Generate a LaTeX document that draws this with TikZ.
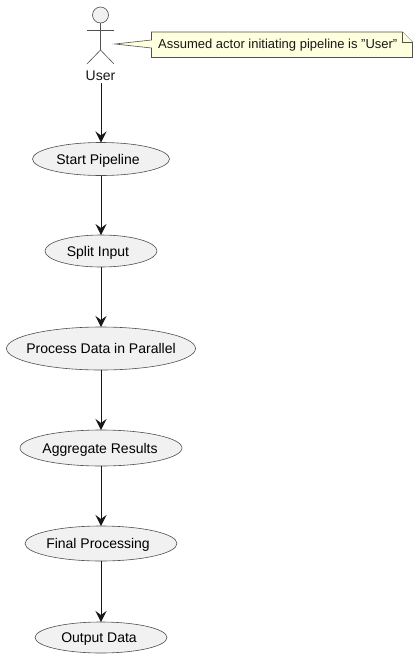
\documentclass[tikz,border=0pt]{standalone}
\usepackage{fontspec}
\setmainfont{Liberation Sans}
\usetikzlibrary{arrows.meta,shapes.geometric}
\definecolor{ucfill}{HTML}{F1F1F1}
\definecolor{ucline}{HTML}{181818}
\definecolor{softline}{HTML}{505050}
\definecolor{notefill}{HTML}{FEFFDD}
\newcommand{\uctext}[2]{\makebox[0pt]{\kern#1pt\raisebox{-5pt}[0pt][0pt]{\fontsize{14}{16}\selectfont #2}\kern-#1pt}}
\tikzset{
  usecase/.style={ellipse,draw=softline,fill=ucfill,line width=0.6pt,inner sep=0pt,outer sep=0pt},
  flow/.style={draw=ucline,line width=1pt,-{Stealth[length=11pt,width=11pt,inset=4pt]}},
  actorline/.style={draw=softline,line width=0.6pt},
  notebox/.style={draw=softline,fill=notefill,line width=0.6pt,line join=miter},
  plain/.style={inner sep=0pt,text=ucline}
}
\begin{document}
\begin{tikzpicture}[x=1pt,y=-1pt]
\useasboundingbox[fill=white] (0,0) rectangle (418,657);
% actor
\node[circle,draw=softline,fill=ucfill,line width=0.6pt,minimum size=16pt,inner sep=0pt] (head) at (100.5,15) {};
\coordinate (neck) at (100.5,23);
\coordinate (hip) at (100.5,50);
\coordinate (armL) at (87,30);
\coordinate (armR) at (114,30);
\coordinate (legL) at (87,64);
\coordinate (legR) at (114,64);
\draw[actorline] (neck) -- (hip);
\draw[actorline] (armL) -- (armR);
\draw[actorline] (legL) -- (hip) -- (legR);
\node[plain,font=\fontsize{14}{16}\selectfont] (user) at (100.5,76) {User};
% note
\coordinate (tip) at (115,44);
\draw[notebox] (151.5,32) -- (402.5,32) -- (412.5,42) -- (412.5,57.5) -- (151.5,57.5) -- (151.5,48) -- (tip) -- (151.5,40) -- cycle;
\draw[notebox] (402.5,32) -- (402.5,42) -- (412.5,42);
\node[plain,anchor=west,font=\fontsize{13}{15}\selectfont] (note) at (158,45.5) {Assumed actor initiating pipeline is "User"};
% use cases
\node[usecase,minimum width=137pt,minimum height=33pt] (a) at (101,159) {\uctext{-3}{Start Pipeline}};
\node[usecase,minimum width=112pt,minimum height=32pt] (b) at (101,251) {\uctext{-3}{Split Input}};
\node[usecase,minimum width=189pt,minimum height=43pt] (c) at (101,348.5) {\uctext{0}{Process Data in Parallel}};
\node[usecase,minimum width=162pt,minimum height=36pt] (d) at (101,448) {\uctext{-1}{Aggregate Results}};
\node[usecase,minimum width=152pt,minimum height=35pt] (e) at (101,543.5) {\uctext{-3}{Final Processing}};
\node[usecase,minimum width=132pt,minimum height=31pt] (f) at (101,637.5) {\uctext{-2}{Output Data}};
% connectors
\draw[flow] (user.south -| a.north) ++(0,2) -- (a);
\draw[flow] (a) -- (b);
\draw[flow] (b) -- (c);
\draw[flow] (c) -- (d);
\draw[flow] (d) -- (e);
\draw[flow] (e) -- (f);
\end{tikzpicture}
\end{document}
